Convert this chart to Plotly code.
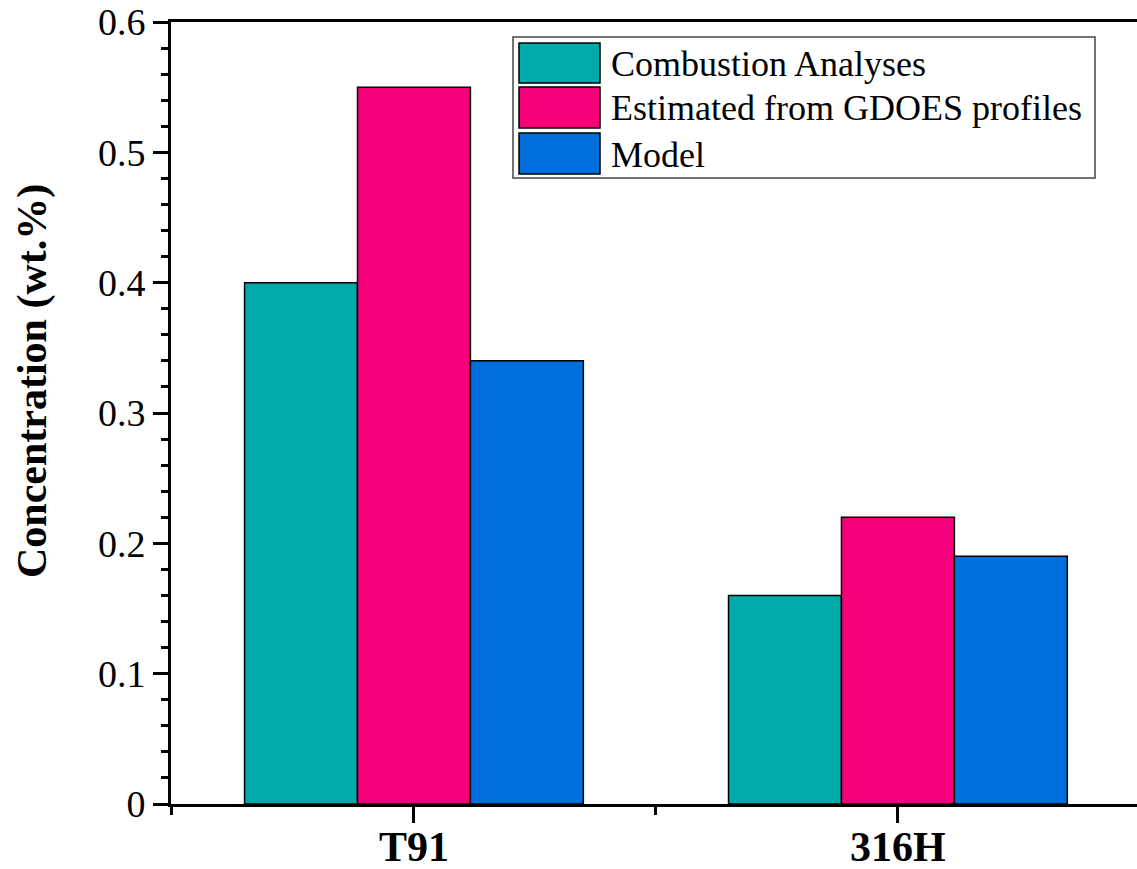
import plotly.graph_objects as go

categories = ["T91", "316H"]
series_names = ["Combustion Analyses", "Estimated from GDOES profiles", "Model"]
combustion = [0.40, 0.16]
gdoes = [0.55, 0.22]
model = [0.34, 0.19]
y_ticks = [0, 0.1, 0.2, 0.3, 0.4, 0.5, 0.6]

colors = ["#00AAAA", "#F5007A", "#006EDC"]
FONT = "Liberation Serif"

W, H = 1137, 869
ML, MR, MT, MB = 171, 0, 22, 65
PW, PH = W - ML - MR, H - MT - MB

def px_x(px):
    return (px - ML) / PW

def px_y(py):
    return (H - MB - py) / PH

xpos = list(range(len(categories)))
fig = go.Figure()
for name, vals, col in zip(series_names, [combustion, gdoes, model], colors):
    fig.add_trace(go.Bar(x=xpos, y=vals, name=name, marker=dict(color=col, line=dict(color="black", width=1.5)),
                         showlegend=False))

fig.update_layout(
    width=W, height=H, margin=dict(l=ML, r=MR, t=MT, b=MB, autoexpand=False),
    paper_bgcolor="white", plot_bgcolor="white",
    barmode="group", bargap=0.3, bargroupgap=0,
)
fig.update_xaxes(
    range=[-0.502, 1.494], tickmode="array", tickvals=xpos, ticktext=[f"<b>{c}</b>" for c in categories],
    tickfont=dict(size=42, family=FONT, color="black"), ticklabelstandoff=-12,
    ticks="outside", ticklen=16, tickwidth=2.5, tickcolor="black",
    minor=dict(tickmode="array", tickvals=[-0.5, 0.5, 1.5], ticks="outside", ticklen=8, tickwidth=2.5, tickcolor="black"),
    showline=True, linewidth=3, linecolor="black", mirror=True,
    showgrid=False, zeroline=False, automargin=False,
)
fig.update_yaxes(
    range=[0, 0.6], tickmode="array", tickvals=y_ticks, ticktext=[f"{v:g}" for v in y_ticks],
    tickfont=dict(size=38, family=FONT, color="black"),
    ticks="outside", ticklen=15, tickwidth=2.5, tickcolor="black",
    minor=dict(dtick=0.02, tick0=0, ticks="outside", ticklen=7, tickwidth=2.5, tickcolor="black"),
    showline=True, linewidth=3, linecolor="black", mirror=False,
    showgrid=False, zeroline=False, automargin=False,
)

# y-axis title
fig.add_annotation(text="<b>Concentration (wt.%)</b>", xref="paper", yref="paper",
                   x=px_x(33), y=px_y(381), textangle=-90, showarrow=False,
                   font=dict(size=42, family=FONT, color="black"), xanchor="center", yanchor="middle")

# legend box
fig.add_shape(type="rect", xref="paper", yref="paper", x0=px_x(513), x1=px_x(1095), y0=px_y(178), y1=px_y(37),
              line=dict(color="#444444", width=1.5), fillcolor="white", layer="above")
sw_rows = [(43, 83), (87, 128), (133, 174)]
for (t, b), name, col in zip(sw_rows, series_names, colors):
    fig.add_shape(type="rect", xref="paper", yref="paper", x0=px_x(519), x1=px_x(600), y0=px_y(b), y1=px_y(t),
                  line=dict(color="black", width=1.5), fillcolor=col, layer="above")
    fig.add_annotation(text=name, xref="paper", yref="paper", x=px_x(609), y=px_y((t + b) / 2 + 1),
                       showarrow=False, xanchor="left", yanchor="middle",
                       font=dict(size=36, family=FONT, color="black"))

fig.write_html("out.html")
